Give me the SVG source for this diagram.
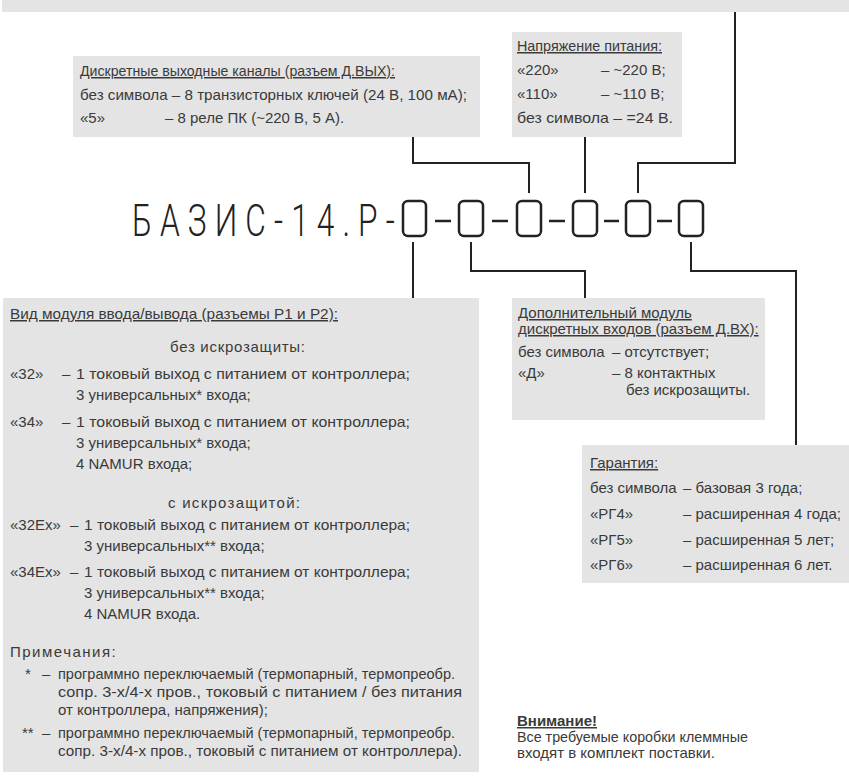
<svg xmlns="http://www.w3.org/2000/svg" width="849" height="779" viewBox="0 0 849 779">
<style>
.box{fill:#e4e4e4}
.t{font-family:"Liberation Sans",Arial,sans-serif;font-size:15px;fill:#3a3a3a}
.u{text-decoration:underline}
.wire{fill:none;stroke:#222;stroke-width:2}
.slot{fill:none;stroke:#222;stroke-width:2.5}
.dash{stroke:#222;stroke-width:2.5}
.title{font-family:Roboto,"Liberation Sans",sans-serif;font-weight:300;font-size:44px;fill:#222}
</style>
<rect x="2" y="0" width="847" height="12" class="box"/>
<g id="connectors">
<path class="wire" d="M413 137V163H529V193"/>
<path class="wire" d="M585 137V193"/>
<path class="wire" d="M735 12V163H638V193"/>
<path class="wire" d="M413 242V298"/>
<path class="wire" d="M471 242V271H585V298"/>
<path class="wire" d="M691 242V271H796V445"/>
</g>
<g id="code">
<text class="title" transform="translate(132,236) scale(0.72,1)" x="0" y="0" textLength="365" lengthAdjust="spacing">БАЗИС-14.Р-</text>
<rect class="slot" x="403" y="201" width="23" height="35" rx="5"/>
<rect class="slot" x="459" y="201" width="24" height="35" rx="5"/>
<rect class="slot" x="517" y="201" width="24" height="35" rx="5"/>
<rect class="slot" x="573" y="201" width="24" height="35" rx="5"/>
<rect class="slot" x="626" y="201" width="24" height="35" rx="5"/>
<rect class="slot" x="679" y="201" width="24" height="35" rx="5"/>
<line class="dash" x1="435" y1="221" x2="451" y2="221"/>
<line class="dash" x1="492" y1="221" x2="508" y2="221"/>
<line class="dash" x1="549" y1="221" x2="565" y2="221"/>
<line class="dash" x1="604" y1="221" x2="619" y2="221"/>
<line class="dash" x1="657" y1="221" x2="672" y2="221"/>
</g>
<g id="node-dout">
<rect class="box" x="73" y="56" width="407" height="81"/>
<text class="t u" x="80" y="76" textLength="315" lengthAdjust="spacingAndGlyphs">Дискретные выходные каналы (разъем Д.ВЫХ):</text>
<text class="t" x="80" y="100" textLength="387" lengthAdjust="spacingAndGlyphs">без символа – 8 транзисторных ключей (24 В, 100 мА);</text>
<text class="t" x="80" y="123">«5»</text>
<text class="t" x="165" y="123">– 8 реле ПК (~220 В, 5 А).</text>
</g>
<g id="node-power">
<rect class="box" x="512" y="32" width="170" height="105"/>
<text class="t u" x="517" y="51" textLength="145" lengthAdjust="spacingAndGlyphs">Напряжение питания:</text>
<text class="t" x="517" y="75">«220»</text>
<text class="t" x="601" y="75">– ~220 В;</text>
<text class="t" x="517" y="99">«110»</text>
<text class="t" x="601" y="99">– ~110 В;</text>
<text class="t" x="517" y="123" textLength="156" lengthAdjust="spacingAndGlyphs">без символа – =24 В.</text>
</g>
<g id="node-io">
<rect class="box" x="3" y="298" width="476" height="474"/>
<text class="t u" x="10" y="319" textLength="328" lengthAdjust="spacingAndGlyphs">Вид модуля ввода/вывода (разъемы Р1 и Р2):</text>
<text class="t" x="170" y="352" textLength="135" lengthAdjust="spacing">без искрозащиты:</text>
<text class="t" x="10" y="379">«32»</text>
<text class="t" x="62" y="379">–</text>
<text class="t" x="76" y="379" textLength="334" lengthAdjust="spacingAndGlyphs">1 токовый выход с питанием от контроллера;</text>
<text class="t" x="76" y="400">3 универсальных* входа;</text>
<text class="t" x="10" y="427">«34»</text>
<text class="t" x="62" y="427">–</text>
<text class="t" x="76" y="427" textLength="334" lengthAdjust="spacingAndGlyphs">1 токовый выход с питанием от контроллера;</text>
<text class="t" x="76" y="448">3 универсальных* входа;</text>
<text class="t" x="76" y="469">4 NAMUR входа;</text>
<text class="t" x="168" y="508" textLength="132" lengthAdjust="spacing">с искрозащитой:</text>
<text class="t" x="10" y="530">«32Ex»</text>
<text class="t" x="70" y="530">–</text>
<text class="t" x="84" y="530" textLength="326" lengthAdjust="spacingAndGlyphs">1 токовый выход с питанием от контроллера;</text>
<text class="t" x="84" y="551">3 универсальных** входа;</text>
<text class="t" x="10" y="577">«34Ex»</text>
<text class="t" x="70" y="577">–</text>
<text class="t" x="84" y="577" textLength="326" lengthAdjust="spacingAndGlyphs">1 токовый выход с питанием от контроллера;</text>
<text class="t" x="84" y="598">3 универсальных** входа;</text>
<text class="t" x="84" y="619">4 NAMUR входа.</text>
<text class="t" x="10" y="657" letter-spacing="1.5">Примечания:</text>
<text class="t" x="25" y="679">*</text>
<text class="t" x="42" y="679">–</text>
<text class="t" x="58" y="679" textLength="397" lengthAdjust="spacingAndGlyphs">программно переключаемый (термопарный, термопреобр.</text>
<text class="t" x="58" y="697" textLength="404" lengthAdjust="spacingAndGlyphs">сопр. 3-х/4-х пров., токовый с питанием / без питания</text>
<text class="t" x="58" y="715">от контроллера, напряжения);</text>
<text class="t" x="22" y="738">**</text>
<text class="t" x="42" y="738">–</text>
<text class="t" x="58" y="738" textLength="397" lengthAdjust="spacingAndGlyphs">программно переключаемый (термопарный, термопреобр.</text>
<text class="t" x="58" y="756" textLength="404" lengthAdjust="spacingAndGlyphs">сопр. 3-х/4-х пров., токовый с питанием от контроллера).</text>
</g>
<g id="node-din">
<rect class="box" x="512" y="298" width="253" height="122"/>
<text class="t u" x="518" y="318">Дополнительный модуль</text>
<text class="t u" x="518" y="334">дискретных входов (разъем Д.ВХ):</text>
<text class="t" x="518" y="357">без символа</text>
<text class="t" x="612" y="357">– отсутствует;</text>
<text class="t" x="518" y="378">«Д»</text>
<text class="t" x="612" y="378">– 8 контактных</text>
<text class="t" x="626" y="395">без искрозащиты.</text>
</g>
<g id="node-warranty">
<rect class="box" x="582" y="445" width="267" height="138"/>
<text class="t u" x="590" y="468">Гарантия:</text>
<text class="t" x="590" y="493">без символа</text>
<text class="t" x="683" y="493">– базовая 3 года;</text>
<text class="t" x="590" y="519">«РГ4»</text>
<text class="t" x="683" y="519">– расширенная 4 года;</text>
<text class="t" x="590" y="545">«РГ5»</text>
<text class="t" x="683" y="545">– расширенная 5 лет;</text>
<text class="t" x="590" y="570">«РГ6»</text>
<text class="t" x="683" y="570">– расширенная 6 лет.</text>
</g>
<g id="note-attention">
<text class="t u" x="517" y="726" font-weight="bold" font-size="14">Внимание!</text>
<text class="t" x="517" y="742" font-size="14" textLength="231" lengthAdjust="spacingAndGlyphs">Все требуемые коробки клеммные</text>
<text class="t" x="517" y="758" font-size="14">входят в комплект поставки.</text>
</g>
</svg>
